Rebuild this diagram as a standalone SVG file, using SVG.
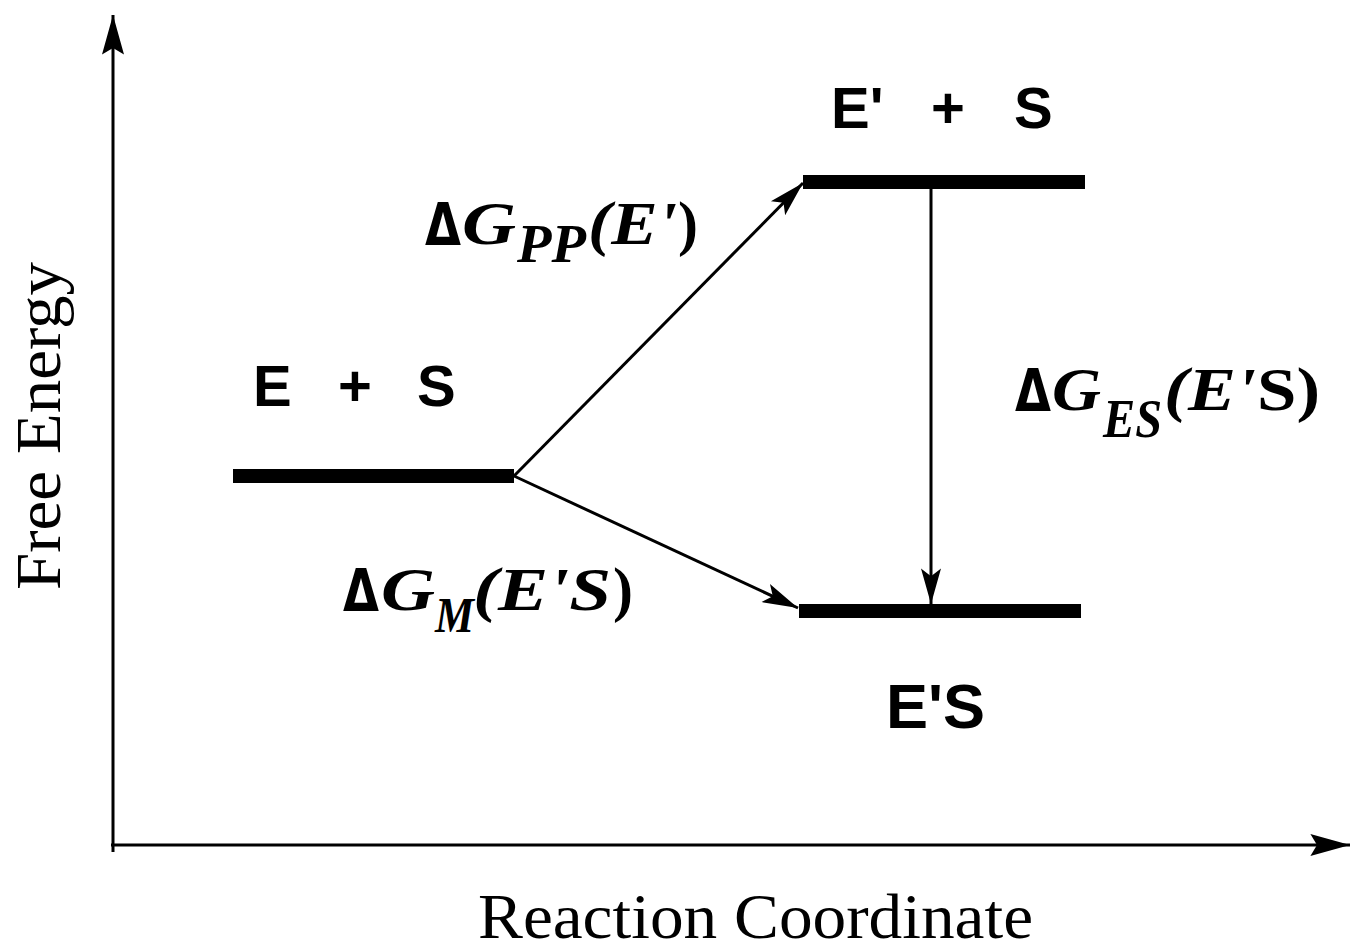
<svg xmlns="http://www.w3.org/2000/svg" width="1352" height="950" viewBox="0 0 1352 950">
<style>
.axis{stroke:#000;stroke-width:3;fill:none}
.bar{fill:#000}
.conn{stroke:#000;stroke-width:3;fill:none}
.st{font-family:"Liberation Sans",Arial,sans-serif;font-weight:bold;font-size:58px;fill:#000}
.ax{font-family:"Liberation Serif","Times New Roman",serif;font-size:64px;fill:#000}
.lb{font-family:"Liberation Serif","Times New Roman",serif;font-weight:bold;font-size:62px;fill:#000}
.dl{font-family:"DejaVu Sans","Liberation Sans",sans-serif;font-weight:bold;font-size:59px;fill:#000}
.it{font-style:italic}
.sub{font-size:54px}
</style>
<defs>
<marker id="ah" markerUnits="userSpaceOnUse" markerWidth="40" markerHeight="30" viewBox="-34 -12 36 24" refX="0" refY="0" orient="auto">
<path d="M0,0 L-32,-9 L-25,0 L-32,9 Z" fill="#000"/>
</marker>
<marker id="axh" markerUnits="userSpaceOnUse" markerWidth="44" markerHeight="30" viewBox="-38 -12 40 24" refX="0" refY="0" orient="auto">
<path d="M0,0 L-36,-10 L-30,0 L-36,10 Z" fill="#000"/>
</marker>
</defs>
<g id="axes">
<line class="axis" x1="113" y1="852" x2="113" y2="15" marker-end="url(#axh)"/>
<line class="axis" x1="111" y1="845" x2="1350" y2="845" marker-end="url(#axh)"/>
<text class="ax" x="478" y="938" textLength="555" lengthAdjust="spacingAndGlyphs">Reaction Coordinate</text>
<text class="ax" transform="translate(60,426) rotate(-90)" x="0" y="0" text-anchor="middle" textLength="328" lengthAdjust="spacingAndGlyphs">Free Energy</text>
</g>
<g id="node-ES-free">
<rect class="bar" x="233" y="469" width="281" height="14"/>
<text class="st" y="406"><tspan x="253">E</tspan><tspan x="338">+</tspan><tspan x="417">S</tspan></text>
</g>
<g id="node-E1S-free">
<rect class="bar" x="803" y="175" width="282" height="14"/>
<text class="st" y="128"><tspan x="831">E'</tspan><tspan x="931">+</tspan><tspan x="1014">S</tspan></text>
</g>
<g id="node-E1S-complex">
<rect class="bar" x="799" y="604" width="282" height="14"/>
<text class="st" x="886" y="728" style="font-size:63px">E'S</text>
</g>
<g id="connectors">
<line class="conn" x1="514" y1="476" x2="803" y2="183" marker-end="url(#ah)"/>
<line class="conn" x1="514" y1="476" x2="798" y2="608" marker-end="url(#ah)"/>
<line class="conn" x1="931" y1="189" x2="931" y2="604" marker-end="url(#ah)"/>
</g>
<g id="label-GPP">
<text class="dl" x="425" y="245" textLength="36" lengthAdjust="spacingAndGlyphs">Δ</text>
<text class="lb it" x="462" y="244" textLength="54" lengthAdjust="spacingAndGlyphs">G</text>
<text class="lb it sub" x="517" y="262" textLength="69" lengthAdjust="spacingAndGlyphs">PP</text>
<text class="lb it" x="588" y="244" textLength="89" lengthAdjust="spacingAndGlyphs">(E'</text>
<text class="lb" x="678" y="244" textLength="20" lengthAdjust="spacingAndGlyphs">)</text>
</g>
<g id="label-GM">
<text class="dl" x="343" y="611" textLength="36" lengthAdjust="spacingAndGlyphs">Δ</text>
<text class="lb it" x="381" y="610" textLength="54" lengthAdjust="spacingAndGlyphs">G</text>
<text class="lb it sub" x="435" y="632" textLength="39" lengthAdjust="spacingAndGlyphs" style="font-size:51px">M</text>
<text class="lb it" x="473" y="610" textLength="138" lengthAdjust="spacingAndGlyphs">(E'S</text>
<text class="lb" x="613" y="610" textLength="20" lengthAdjust="spacingAndGlyphs">)</text>
</g>
<g id="label-GES">
<text class="dl" x="1015" y="411" textLength="36" lengthAdjust="spacingAndGlyphs">Δ</text>
<text class="lb it" x="1052" y="410" textLength="49" lengthAdjust="spacingAndGlyphs">G</text>
<text class="lb it sub" x="1103" y="437" textLength="59" lengthAdjust="spacingAndGlyphs">ES</text>
<text class="lb it" x="1164" y="410" textLength="92" lengthAdjust="spacingAndGlyphs">(E'</text>
<text class="lb" x="1257" y="410" textLength="63" lengthAdjust="spacingAndGlyphs">S)</text>
</g>
</svg>
